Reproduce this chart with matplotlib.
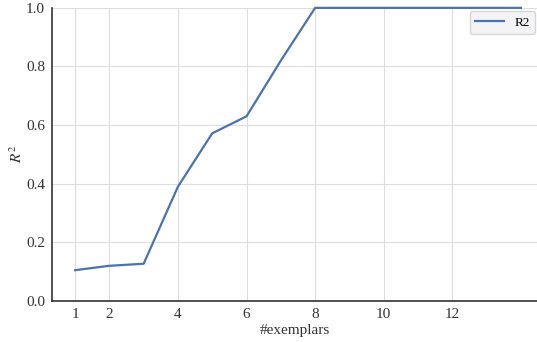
import matplotlib
matplotlib.use("Agg")
import matplotlib.pyplot as plt

exemplars = [1, 2, 3, 4, 5, 6, 7, 8, 9, 10, 11, 12, 13, 14]
r2 = [0.105, 0.12, 0.127, 0.39, 0.572, 0.63, 0.82, 1.0, 1.0, 1.0, 1.0, 1.0, 1.0, 1.0]
xticks = [1, 2, 4, 6, 8, 10, 12]
yticks = [0.0, 0.2, 0.4, 0.6, 0.8, 1.0]

plt.rcParams['font.family'] = ['Liberation Serif', 'DejaVu Serif']
plt.rcParams['mathtext.fontset'] = 'stix'

fig = plt.figure(figsize=(5.37, 3.42), dpi=100)
ax = fig.add_axes([0.097, 0.12, 0.903, 0.857])
ax.plot(exemplars, r2, color='#4c72b0', lw=1.6, label='R2', clip_on=False)
ax.set_xlim(0.33, 14.47)
ax.set_ylim(0, 1)
ax.set_xticks(xticks)
ax.set_yticks(yticks)
ax.set_yticklabels([f"{t:.1f}" for t in yticks])
ax.grid(True, color='#dddddd', lw=0.8)
ax.set_axisbelow(True)
for s in ['top', 'right']:
    ax.spines[s].set_visible(False)
for s in ['left', 'bottom']:
    ax.spines[s].set_color('#333333')
    ax.spines[s].set_linewidth(1.2)
ax.tick_params(length=0, labelsize=11, colors='#333333', pad=5)
ax.set_xlabel('#exemplars', fontsize=11, color='#333333', labelpad=2)
ax.set_ylabel('$R^2$', fontsize=11, color='#333333', labelpad=1)
leg = ax.legend(loc='upper right', fontsize=9.5, handlelength=2.2, borderaxespad=0.25,
                bbox_to_anchor=(1.003, 1.0))
leg.get_frame().set_facecolor('#f2f2f5')
leg.get_frame().set_edgecolor('#cccccc')
fig.savefig('out.png', dpi=100)
